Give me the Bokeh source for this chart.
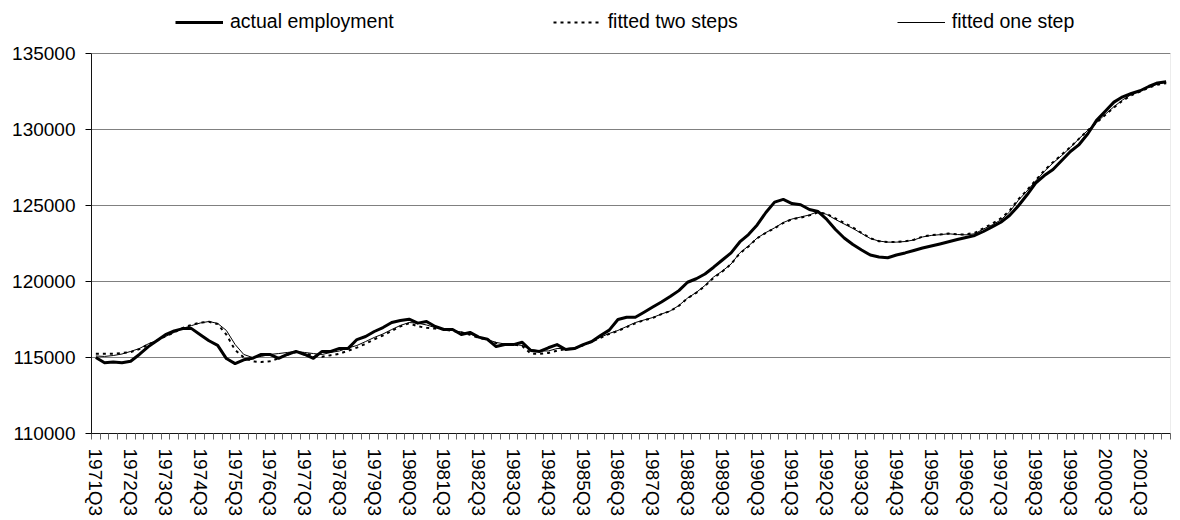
from bokeh.plotting import figure
from bokeh.models import Range1d, FixedTicker, Legend, LegendItem, NumeralTickFormatter, BoxAnnotation
from bokeh.embed import file_html
from bokeh.resources import INLINE

tick_labels = ["1971Q3", "1972Q3", "1973Q3", "1974Q3", "1975Q3", "1976Q3", "1977Q3",
               "1978Q3", "1979Q3", "1980Q3", "1981Q3", "1982Q3", "1983Q3", "1984Q3",
               "1985Q3", "1986Q3", "1987Q3", "1988Q3", "1989Q3", "1990Q3", "1991Q3",
               "1992Q3", "1993Q3", "1994Q3", "1995Q3", "1996Q3", "1997Q3", "1998Q3",
               "1999Q3", "2000Q3", "2001Q3"]

actual_employment = [
    115000, 114650, 114700, 114650, 114750, 115200, 115700, 116100, 116500, 116750,
    116900, 116900, 116500, 116100, 115800, 114930, 114600, 114850, 114950, 115200,
    115200, 114950, 115200, 115400, 115200, 114950, 115400, 115400, 115600, 115600,
    116180, 116380, 116710, 116970, 117300, 117430, 117520, 117260, 117370, 117040,
    116840, 116840, 116510, 116650, 116340, 116200, 115720, 115850, 115850, 116000,
    115460, 115400, 115640, 115850, 115530, 115590, 115850, 116050, 116450, 116800,
    117500, 117650, 117650, 117980, 118320, 118650, 119010, 119400, 119950, 120180,
    120490, 120940, 121415, 121880, 122600, 123090, 123720, 124540, 125220, 125400,
    125130, 125050, 124740, 124600, 124080, 123420, 122860, 122430, 122070, 121740,
    121610, 121560, 121740, 121880, 122040, 122200, 122340, 122470, 122610, 122760,
    122900, 123030, 123290, 123590, 123900, 124340, 124970, 125690, 126480, 126970,
    127370, 127960, 128550, 129010, 129720, 130600, 131200, 131800, 132150, 132370,
    132550, 132830, 133060, 133140]

fitted_two_steps = [
    115250, 115250, 115250, 115300, 115350, 115550, 115850, 116100, 116400, 116650,
    116950, 117150, 117300, 117350, 117200, 116500, 115500, 115000, 114750, 114700,
    114750, 114950, 115200, 115350, 115250, 115150, 115050, 115150, 115250, 115450,
    115650, 115900, 116200, 116450, 116750, 117050, 117250, 117050, 116950, 116900,
    116850, 116750, 116650, 116500, 116300, 116150, 115950, 115850, 115850, 115750,
    115250, 115250, 115300, 115450, 115550, 115600, 115800, 116050, 116300, 116550,
    116750, 117000, 117250, 117450, 117600, 117850, 118050, 118400, 118900, 119250,
    119700, 120250, 120650, 121150, 121850, 122300, 122850, 123200, 123500, 123850,
    124100, 124200, 124350, 124550, 124450, 124150, 123850, 123550, 123200, 122850,
    122650, 122600, 122600, 122650, 122750, 122950, 123050, 123100, 123150, 123100,
    123100, 123200, 123500, 123800, 124150, 124650, 125400, 126000, 126650, 127300,
    127850, 128350, 128850, 129400, 129950, 130450, 130950, 131450, 131900, 132250,
    132500, 132750, 132950, 133050]

fitted_one_step = [
    115100, 115070, 115130, 115230, 115400, 115590, 115890, 116120, 116380, 116650,
    116910, 117100, 117270, 117370, 117240, 116780, 115860, 115200, 115000, 115070,
    115200, 115260, 115330, 115400, 115330, 115260, 115200, 115330, 115430, 115630,
    115790, 116050, 116320, 116550, 116840, 117110, 117300, 117260, 117140, 116970,
    116870, 116780, 116680, 116550, 116350, 116180, 115990, 115890, 115860, 115790,
    115530, 115430, 115430, 115590, 115590, 115630, 115790, 116090, 116340, 116580,
    116780, 117040, 117300, 117470, 117630, 117860, 118060, 118420, 118910, 119280,
    119740, 120300, 120690, 121150, 121880, 122340, 122860, 123220, 123530, 123880,
    124110, 124240, 124380, 124600, 124410, 124080, 123780, 123490, 123160, 122830,
    122660, 122590, 122590, 122630, 122730, 122930, 123030, 123080, 123140, 123090,
    123070, 123140, 123450, 123720, 124050, 124570, 125330, 125950, 126610, 127240,
    127800, 128290, 128820, 129400, 129950, 130450, 131000, 131500, 131950, 132300,
    132550, 132800, 133000, 133100]

y_ticks = [110000, 115000, 120000, 125000, 130000, 135000]

n = len(actual_employment)
xs = list(range(n))
FONT = "Liberation Sans"
FS = "19px"

# plot area: 76 px per 5000; extra headroom above the top gridline holds the legend
PX_PER_STEP = 76
HEAD_PX = 46
step = y_ticks[1] - y_ticks[0]
y_top = y_ticks[-1] + step * HEAD_PX / PX_PER_STEP
grid_h = PX_PER_STEP * (len(y_ticks) - 1)
frame_h = grid_h + HEAD_PX

p = figure(frame_width=1079, frame_height=frame_h,
           x_range=Range1d(-0.5, n - 0.5), y_range=Range1d(y_ticks[0], y_top),
           output_backend="svg", toolbar_location=None,
           min_border_left=91, min_border_right=10, min_border_top=53 - HEAD_PX,
           min_border_bottom=87)
p.background_fill_color = "white"
p.border_fill_color = "white"
p.outline_line_color = None

# plot-area border (gray) around the data region
p.add_layout(BoxAnnotation(left=-0.5, right=n - 0.5, bottom=y_ticks[0], top=y_ticks[-1],
                           fill_alpha=0, line_color="#808080", line_width=1))

# axes
xa = p.xaxis[0]
xa.ticker = FixedTicker(ticks=list(range(0, n, 4)),
                        minor_ticks=[i - 0.5 for i in range(n + 1)])
xa.major_label_overrides = {i * 4: lab for i, lab in enumerate(tick_labels)}
xa.major_label_orientation = "vertical"
xa.major_tick_out = 0
xa.major_tick_in = 0
xa.minor_tick_out = 6
xa.minor_tick_in = 0
xa.minor_tick_line_color = "#666666"
xa.axis_line_color = "black"
xa.major_label_standoff = 9
xa.major_label_text_font = FONT
xa.major_label_text_font_size = FS
xa.major_label_text_color = "black"

ya = p.yaxis[0]
ya.ticker = FixedTicker(ticks=y_ticks, minor_ticks=[])
ya.formatter = NumeralTickFormatter(format="0")
ya.bounds = (y_ticks[0], y_ticks[-1])
ya.major_tick_out = 6
ya.major_tick_in = 0
ya.minor_tick_out = 0
ya.minor_tick_in = 0
ya.major_tick_line_color = "black"
ya.axis_line_color = "black"
ya.major_label_standoff = 10
ya.major_label_text_font = FONT
ya.major_label_text_font_size = FS
ya.major_label_text_color = "black"

p.xgrid.visible = False
p.ygrid.grid_line_color = "#808080"
p.ygrid.grid_line_width = 1

r_actual = p.line(xs, actual_employment, line_color="black", line_width=3, line_join="round")
r_two = p.line(xs, fitted_two_steps, line_color="black", line_width=2, line_dash="3 4")
r_one = p.line(xs, fitted_one_step, line_color="black", line_width=1)

legend = Legend(items=[LegendItem(label="actual employment", renderers=[r_actual]),
                       LegendItem(label="fitted two steps", renderers=[r_two]),
                       LegendItem(label="fitted one step", renderers=[r_one])],
                location=(84, grid_h + 20), orientation="horizontal",
                glyph_width=48, glyph_height=20, label_height=20, label_standoff=7,
                spacing=159, padding=0, margin=0,
                border_line_alpha=0, background_fill_alpha=0,
                label_text_font=FONT, label_text_font_size="19.5px", label_text_color="black")
p.add_layout(legend)

open("out.html", "w").write(file_html(p, INLINE))
